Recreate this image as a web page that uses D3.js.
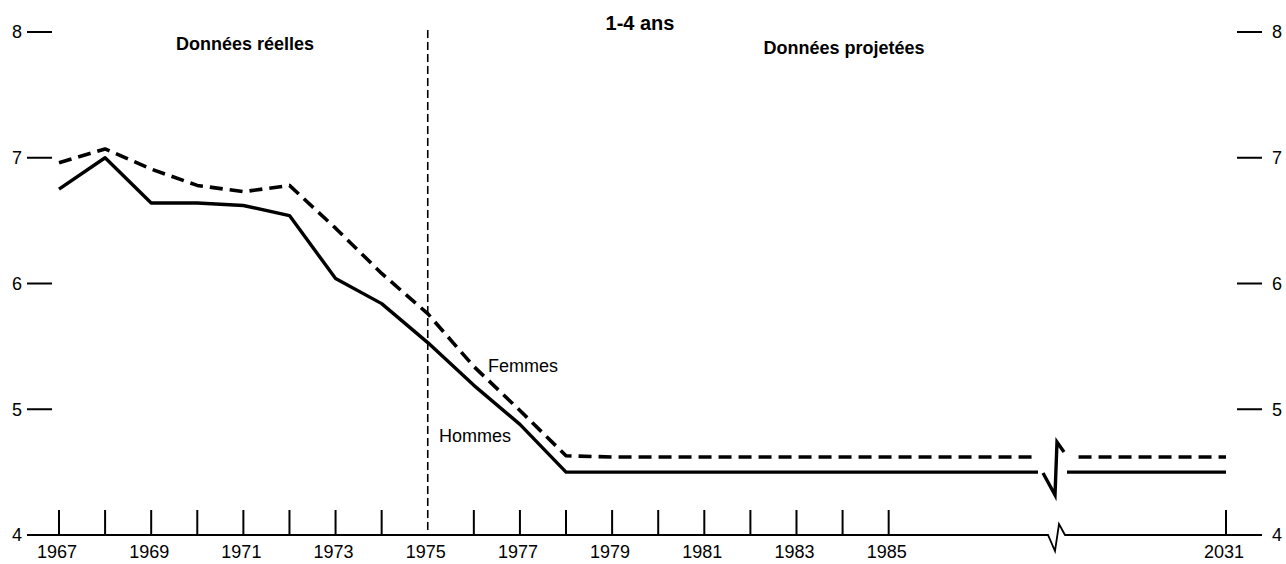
<!DOCTYPE html>
<html>
<head>
<meta charset="utf-8">
<script src="https://cdn.jsdelivr.net/npm/d3@7"></script>
<style>
  html, body { margin: 0; padding: 0; background: #fff; }
  svg { display: block; }
  text { font-family: "Liberation Sans", Arial, Helvetica, sans-serif; fill: #000; }
</style>
</head>
<body>
<svg id="chart" width="1286" height="564"></svg>
<script>
// Years plotted (1967–1985 observed/projected, 2031 after the axis break)
const years = [1967, 1968, 1969, 1970, 1971, 1972, 1973, 1974, 1975, 1976,
               1977, 1978, 1979, 1980, 1981, 1982, 1983, 1984, 1985, 2031];
const hommes = [6.75, 7.00, 6.64, 6.64, 6.62, 6.54, 6.04, 5.84, 5.53, 5.19,
                4.88, 4.50, 4.50, 4.50, 4.50, 4.50, 4.50, 4.50, 4.50, 4.50];
const femmes = [6.96, 7.07, 6.91, 6.78, 6.73, 6.78, 6.44, 6.08, 5.76, 5.34,
                4.99, 4.63, 4.62, 4.62, 4.62, 4.62, 4.62, 4.62, 4.62, 4.62];
const tickYears = [1967, 1968, 1969, 1970, 1971, 1972, 1973, 1974, 1976,
                   1977, 1978, 1979, 1980, 1981, 1982, 1983, 1984, 1985, 2031];
const labelYears = [1967, 1969, 1971, 1973, 1975, 1977, 1979, 1981, 1983, 1985, 2031];
const yTicks = [4, 5, 6, 7, 8];
const splitYear = 1975;
const title = "1-4 ans";
const leftHeading = "Données réelles";
const rightHeading = "Données projetées";

const svg = d3.select("#chart");

// Broken time axis: the gap 1988.5–2027.5 is squeezed into a few pixels
const x = d3.scaleLinear()
  .domain([1967, 1988.5, 2027.5, 2031])
  .range([59, 1050, 1066, 1226]);
const y = d3.scaleLinear().domain([4, 8]).range([535, 32]);
const y0 = y(4);

// Baseline with a zigzag marking the break
svg.append("path")
  .attr("d", `M27,${y0} H1048 L1055,${y0 + 16} L1059,${y0 - 11} L1065,${y0} H1262`)
  .attr("fill", "none").attr("stroke", "#000").attr("stroke-width", 1.8)
  .attr("stroke-linejoin", "miter");

// Year ticks
svg.append("g").selectAll("line").data(tickYears).join("line")
  .attr("x1", d => x(d)).attr("x2", d => x(d))
  .attr("y1", y0).attr("y2", y0 - 25)
  .attr("stroke", "#000").attr("stroke-width", 2);

svg.append("g").selectAll("text").data(labelYears).join("text")
  .attr("x", d => x(d) - 2).attr("y", 558)
  .attr("text-anchor", "middle").attr("font-size", 18)
  .text(d => d);

// Left and right value scales
const leftAxis = svg.append("g");
leftAxis.selectAll("line").data(yTicks.filter(d => d > 4)).join("line")
  .attr("x1", 27).attr("x2", 52).attr("y1", d => y(d)).attr("y2", d => y(d))
  .attr("stroke", "#000").attr("stroke-width", 2);
leftAxis.selectAll("text").data(yTicks).join("text")
  .attr("x", 22).attr("y", d => y(d)).attr("dy", "0.36em")
  .attr("text-anchor", "end").attr("font-size", 18).text(d => d);

const rightAxis = svg.append("g");
rightAxis.selectAll("line").data(yTicks.filter(d => d > 4)).join("line")
  .attr("x1", 1237).attr("x2", 1262).attr("y1", d => y(d)).attr("y2", d => y(d))
  .attr("stroke", "#000").attr("stroke-width", 2);
rightAxis.selectAll("text").data(yTicks).join("text")
  .attr("x", 1272).attr("y", d => y(d)).attr("dy", "0.36em")
  .attr("text-anchor", "start").attr("font-size", 18).text(d => d);

// Divider between observed and projected data
svg.append("line")
  .attr("x1", x(splitYear)).attr("x2", x(splitYear))
  .attr("y1", 30).attr("y2", y0)
  .attr("stroke", "#000").attr("stroke-width", 1.6)
  .attr("stroke-dasharray", "8,4");

// Series lines
const line = d3.line().x((d, i) => x(years[i])).y(d => y(d));

svg.append("path").datum(femmes)
  .attr("d", line).attr("fill", "none").attr("stroke", "#000")
  .attr("stroke-width", 3.6).attr("stroke-dasharray", "13,7")
  .attr("stroke-linejoin", "round");

svg.append("path").datum(hommes)
  .attr("d", line).attr("fill", "none").attr("stroke", "#000")
  .attr("stroke-width", 3.4).attr("stroke-linejoin", "round");

// Gap in the lines at the axis break, with its check-mark symbol
svg.append("rect").attr("x", 1038).attr("y", 445).attr("width", 29).attr("height", 40)
  .attr("fill", "#fff");
svg.append("rect").attr("x", 1066).attr("y", 445).attr("width", 9).attr("height", 20)
  .attr("fill", "#fff");
svg.append("path")
  .attr("d", "M1043,473 L1055,495 L1057,442 L1064,452")
  .attr("fill", "none").attr("stroke", "#000").attr("stroke-width", 3.4)
  .attr("stroke-linejoin", "miter");

// Headings and series labels
svg.append("text").attr("x", 640).attr("y", 30).attr("text-anchor", "middle")
  .attr("font-size", 20).attr("font-weight", "bold").text(title);
svg.append("text").attr("x", 245).attr("y", 50).attr("text-anchor", "middle")
  .attr("font-size", 18).attr("font-weight", "bold").text(leftHeading);
svg.append("text").attr("x", 844).attr("y", 54).attr("text-anchor", "middle")
  .attr("font-size", 18).attr("font-weight", "bold").text(rightHeading);

svg.append("text").attr("x", 488).attr("y", 372).attr("font-size", 18).text("Femmes");
svg.append("text").attr("x", 439).attr("y", 442).attr("font-size", 18).text("Hommes");
</script>
</body>
</html>
